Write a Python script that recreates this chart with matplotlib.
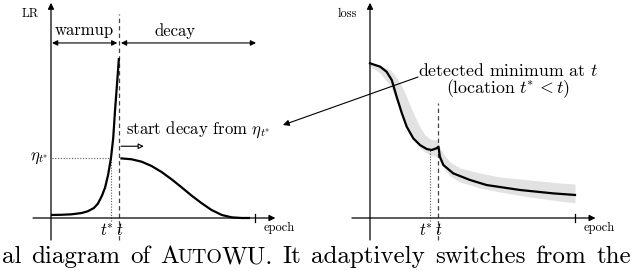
import matplotlib
matplotlib.use("Agg")
import matplotlib.pyplot as plt
from matplotlib.patches import ConnectionPatch

plt.rcParams['font.family'] = ['cmr10', 'DejaVu Serif']
plt.rcParams['mathtext.fontset'] = 'cm'
plt.rcParams['axes.unicode_minus'] = False

# ---------------- data ----------------
warm_epoch = [0, 0.5, 1.0, 1.5, 1.8, 2.1, 2.3, 2.5, 2.65, 2.8, 2.94, 3.05, 3.14, 3.24, 3.33]
warm_lr = [0.019, 0.020, 0.023, 0.031, 0.042, 0.062, 0.09, 0.14, 0.19, 0.27, 0.375, 0.5, 0.675, 0.844, 1.0]

decay_epoch = [3.40, 3.95, 4.44, 4.93, 5.42, 5.91, 6.40, 6.89, 7.39, 7.87, 8.37, 8.86, 9.35, 9.75]
decay_lr = [0.373, 0.367, 0.352, 0.325, 0.2875, 0.242, 0.192, 0.140, 0.092, 0.050, 0.019, 0.004, 0.0, 0.0]

loss_epoch = [0, 0.49, 0.81, 1.06, 1.30, 1.55, 1.79, 2.11, 2.44, 2.77, 3.01, 3.25, 3.34,
              3.41, 3.58, 4.06, 4.88, 5.69, 7.32, 8.93, 10.0]
loss_val = [0.967, 0.946, 0.914, 0.863, 0.758, 0.656, 0.571, 0.498, 0.456, 0.431, 0.425, 0.436, 0.446,
            0.383, 0.331, 0.279, 0.2375, 0.206, 0.175, 0.154, 0.144]

band_epoch = [0, 0.49, 0.98, 1.22, 1.46, 1.71, 1.95, 2.20, 2.44, 2.68, 2.93, 3.17, 3.32, 3.41,
              3.66, 3.90, 4.39, 5.37, 6.34, 7.80, 9.27, 10.0]
band_upper = [0.969, 0.956, 0.925, 0.894, 0.844, 0.781, 0.706, 0.631, 0.569, 0.519, 0.494, 0.4875,
              0.4875, 0.4375, 0.3875, 0.35, 0.3125, 0.281, 0.256, 0.2375, 0.219, 0.2125]
band_lower = [0.95, 0.906, 0.831, 0.75, 0.675, 0.6, 0.531, 0.481, 0.4375, 0.4125, 0.394, 0.3875,
              0.381, 0.35, 0.30, 0.2625, 0.225, 0.1875, 0.1625, 0.131, 0.106, 0.094]

t_star = 2.94
t_switch = 3.33
eta_t_star = 0.375
loss_at_t_star = 0.425
epoch_end = 10.0

caption_words = [[('al', 1.0)], [('diagram', 1.0)], [('of', 1.0)],
                 [('A', 1.0), ('UTO', 0.8), ('WU.', 1.0)], [('It', 1.0)],
                 [('adaptively', 1.0)], [('switches', 1.0)], [('from', 1.0)], [('the', 1.0)]]

# ---------------- figure ----------------
fig = plt.figure(figsize=(6.4, 2.71), dpi=100)
axL = fig.add_axes([0, 0, 0.5, 1])
axR = fig.add_axes([0.5, 0, 0.5, 1])
axL.set_xlim(-2.5, 13.186)
axR.set_xlim(-2.439, 13.171)
for ax in (axL, axR):
    ax.set_ylim(-0.33125, 1.3625)
    ax.axis('off')

AX_LW = 0.9
CURVE_LW = 1.6
TXT = 12
TSTAR = r'$t^{\!\!*}$'


def draw_axes(ax, ylabel, ylabel_x):
    ax.annotate('', xy=(0, 1.345), xytext=(0, -0.1375),
                arrowprops=dict(arrowstyle='-|>', lw=AX_LW, color='k',
                                mutation_scale=9, shrinkA=0, shrinkB=0))
    ax.annotate('', xy=(11.0, 0), xytext=(-0.88, 0),
                arrowprops=dict(arrowstyle='-|>', lw=AX_LW, color='k',
                                mutation_scale=9, shrinkA=0, shrinkB=0))
    ax.plot([epoch_end, epoch_end], [-0.025, 0.025], color='k', lw=AX_LW)
    ax.text(ylabel_x, 1.275, ylabel, fontsize=9, ha='center', va='center')
    ax.text(11.2, -0.063, 'epoch', fontsize=9, ha='center', va='center')
    ax.text(t_star - 0.2, -0.075, TSTAR, fontsize=TXT, ha='center', va='center')
    ax.text(t_switch + 0.02, -0.075, r'$t$', fontsize=TXT, ha='center', va='center')


# ----- left panel -----
draw_axes(axL, 'LR', -1.03)
axL.plot([t_switch, t_switch], [-0.1375, 1.275], color='#444444', lw=0.9,
         linestyle=(0, (3.5, 2.5)))
axL.plot([t_star, t_star], [-0.02, eta_t_star], color='#555555', lw=0.8,
         linestyle=(0, (1, 1.5)))
axL.plot([0.05, t_star], [eta_t_star, eta_t_star], color='#555555', lw=0.8,
         linestyle=(0, (1, 1.5)))
axL.plot(warm_epoch, warm_lr, color='k', lw=CURVE_LW, solid_capstyle='butt')
axL.plot(decay_epoch, decay_lr, color='k', lw=CURVE_LW, solid_capstyle='butt')

axL.text(-0.6, eta_t_star, r'$\eta_{t^{\!\!*}}$', fontsize=TXT, ha='center', va='center')
axL.text(1.62, 1.17, 'warmup', fontsize=TXT, ha='center', va='center')
axL.text(6.08, 1.17, 'decay', fontsize=TXT, ha='center', va='center')
axL.annotate('', xy=(3.25, 1.094), xytext=(0.05, 1.094),
             arrowprops=dict(arrowstyle='<|-|>', lw=0.8, color='k',
                             mutation_scale=8, shrinkA=0, shrinkB=0))
axL.annotate('', xy=(10.05, 1.094), xytext=(3.43, 1.094),
             arrowprops=dict(arrowstyle='<|-|>', lw=0.8, color='k',
                             mutation_scale=8, shrinkA=0, shrinkB=0))
axL.text(3.68, 0.55, r'start decay from $\eta_{t^{\!\!*}}$', fontsize=TXT, ha='left', va='center')
axL.annotate('', xy=(4.55, 0.4485), xytext=(3.43, 0.4485),
             arrowprops=dict(arrowstyle='-|>', lw=0.8, color='k', fc='white',
                             mutation_scale=8, shrinkA=0, shrinkB=0))

# ----- right panel -----
draw_axes(axR, 'loss', -1.12)
axR.fill_between(band_epoch, band_lower, band_upper, color='#e2e2e2', lw=0, zorder=1)
axR.plot([t_switch, t_switch], [-0.1375, 0.72], color='#444444', lw=0.9,
         linestyle=(0, (3.5, 2.5)), zorder=2)
axR.plot([t_star, t_star], [-0.02, loss_at_t_star], color='#555555', lw=0.8,
         linestyle=(0, (1, 1.5)), zorder=2)
axR.plot(loss_epoch, loss_val, color='k', lw=CURVE_LW, zorder=3)
axR.text(6.75, 0.919, r'detected minimum at $t$', fontsize=12.8, ha='center', va='center')
axR.text(6.75, 0.806, r'(location $t^{\!\!*} < t$)', fontsize=12.8, ha='center', va='center')

con = ConnectionPatch(xyA=(2.34, 0.881), coordsA=axR.transData,
                      xyB=(11.37, 0.581), coordsB=axL.transData,
                      arrowstyle='-|>', lw=0.8, color='k', mutation_scale=9,
                      shrinkA=0, shrinkB=0, zorder=5)
fig.add_artist(con)

# ----- caption fragment (justified line, cut by the image edge) -----
CAP_FS = 18
GAP = 10.0
fig.canvas.draw()
renderer = fig.canvas.get_renderer()
x = 2
for word in caption_words:
    for s, scale in word:
        t = fig.text(x / 640, 1 - 263 / 271, s, fontsize=CAP_FS * scale,
                     ha='left', va='baseline')
        bb = t.get_window_extent(renderer=renderer)
        x = bb.x1 - 1.5
    x += GAP + 1.5

fig.savefig('out.png', dpi=100)
